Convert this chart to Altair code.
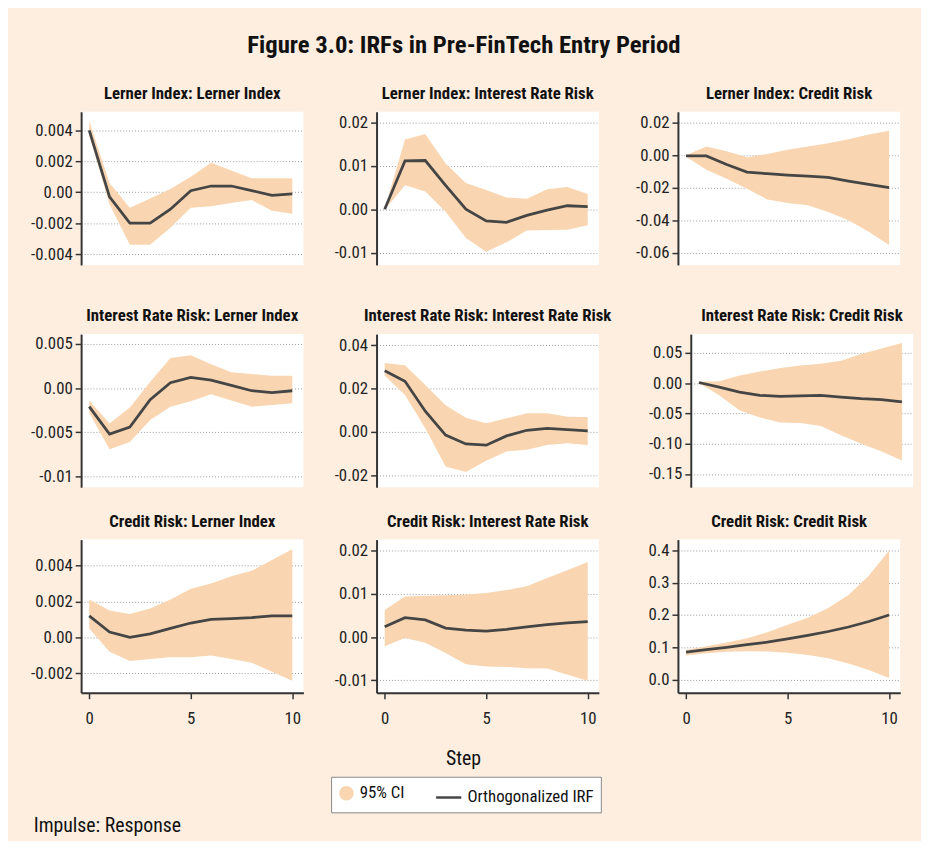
import altair as alt
import pandas as pd

FONT = "Liberation Sans Narrow, Roboto Condensed, DejaVu Sans Condensed, Liberation Sans, sans-serif"
BG = "#FDEEE0"
BAND = "#F9D6B1"
LINE = "#454545"
AXC = "#333333"

steps = list(range(11))

titles = [
    "Lerner Index: Lerner Index", "Lerner Index: Interest Rate Risk", "Lerner Index: Credit Risk",
    "Interest Rate Risk: Lerner Index", "Interest Rate Risk: Interest Rate Risk", "Interest Rate Risk: Credit Risk",
    "Credit Risk: Lerner Index", "Credit Risk: Interest Rate Risk", "Credit Risk: Credit Risk",
]

# Lerner Index -> Lerner Index
li_li_irf = [0.0040, -0.0003, -0.0020, -0.0020, -0.0011, 0.0001, 0.0004, 0.0004, 0.0001, -0.0002, -0.0001]
li_li_hi = [0.0046, 0.0006, -0.0010, -0.0004, 0.0002, 0.0010, 0.0019, 0.0014, 0.0009, 0.0009, 0.0009]
li_li_lo = [0.0037, -0.0008, -0.0034, -0.0034, -0.0023, -0.0010, -0.0009, -0.0007, -0.0005, -0.0012, -0.0014]
# Lerner Index -> Interest Rate Risk
li_ir_irf = [0.0, 0.0111, 0.0112, 0.0055, 0.0, -0.0027, -0.0030, -0.0014, -0.0002, 0.0008, 0.0006]
li_ir_hi = [0.0001, 0.0160, 0.0173, 0.0105, 0.0060, 0.0044, 0.0027, 0.0024, 0.0046, 0.0051, 0.0035]
li_ir_lo = [-0.0001, 0.0055, 0.0041, -0.0006, -0.0066, -0.0098, -0.0076, -0.0049, -0.0048, -0.0047, -0.0037]
# Lerner Index -> Credit Risk
li_cr_irf = [-0.0005, -0.0005, -0.0057, -0.0104, -0.0114, -0.0122, -0.0129, -0.0137, -0.0159, -0.0180, -0.0200]
li_cr_hi = [0.0000, 0.0053, 0.0024, -0.0012, 0.0008, 0.0033, 0.0053, 0.0073, 0.0098, 0.0127, 0.0151]
li_cr_lo = [-0.0010, -0.0090, -0.0145, -0.0206, -0.0273, -0.0294, -0.0308, -0.0349, -0.0400, -0.0471, -0.0553]
# Interest Rate Risk -> Lerner Index
ir_li_irf = [-0.0021, -0.0052, -0.0044, -0.0013, 0.0006, 0.0012, 0.0009, 0.0003, -0.0003, -0.0005, -0.0003]
ir_li_hi = [-0.0014, -0.0040, -0.0022, 0.0007, 0.0034, 0.0037, 0.0027, 0.0018, 0.0016, 0.0014, 0.0014]
ir_li_lo = [-0.0028, -0.0069, -0.0061, -0.0036, -0.0021, -0.0015, -0.0007, -0.0014, -0.0021, -0.0019, -0.0017]
# Interest Rate Risk -> Interest Rate Risk
ir_ir_irf = [0.0283, 0.0234, 0.0096, -0.0014, -0.0055, -0.0061, -0.0018, 0.0008, 0.0017, 0.0011, 0.0005]
ir_ir_hi = [0.0318, 0.0308, 0.0217, 0.0124, 0.0066, 0.0040, 0.0063, 0.0086, 0.0086, 0.0070, 0.0069]
ir_ir_lo = [0.0261, 0.0171, 0.0017, -0.0159, -0.0185, -0.0133, -0.0090, -0.0082, -0.0060, -0.0052, -0.0060]
# Interest Rate Risk -> Credit Risk
ir_cr_irf = [0.001, -0.0066, -0.0148, -0.0202, -0.0219, -0.0213, -0.0202, -0.0230, -0.0257, -0.0273, -0.0310]
ir_cr_hi = [0.002, 0.003, 0.0126, 0.019, 0.025, 0.029, 0.032, 0.037, 0.048, 0.057, 0.066]
ir_cr_lo = [0.0, -0.020, -0.045, -0.057, -0.065, -0.066, -0.071, -0.086, -0.100, -0.113, -0.128]
# Credit Risk -> Lerner Index
cr_li_irf = [0.0012, 0.0003, 0.0000, 0.0002, 0.0005, 0.0008, 0.0010, 0.00105, 0.0011, 0.0012, 0.0012]
cr_li_hi = [0.0021, 0.0015, 0.0013, 0.0016, 0.0021, 0.0027, 0.0030, 0.0034, 0.0037, 0.0043, 0.0049]
cr_li_lo = [0.0005, -0.0008, -0.0013, -0.0012, -0.0011, -0.0011, -0.0010, -0.0012, -0.0014, -0.0019, -0.0024]
# Credit Risk -> Interest Rate Risk
cr_ir_irf = [0.0024, 0.0045, 0.0040, 0.0021, 0.0016, 0.0014, 0.0018, 0.0024, 0.0029, 0.0033, 0.0036]
cr_ir_hi = [0.0063, 0.0094, 0.0096, 0.0097, 0.0099, 0.0102, 0.0109, 0.0118, 0.0137, 0.0155, 0.0174]
cr_ir_lo = [-0.0021, -0.0002, -0.0013, -0.0037, -0.0063, -0.0068, -0.0069, -0.0072, -0.0073, -0.0087, -0.0101]
# Credit Risk -> Credit Risk
cr_cr_irf = [0.085, 0.093, 0.100, 0.108, 0.116, 0.126, 0.137, 0.149, 0.163, 0.180, 0.200]
cr_cr_hi = [0.092, 0.103, 0.115, 0.128, 0.147, 0.170, 0.192, 0.222, 0.262, 0.322, 0.400]
cr_cr_lo = [0.075, 0.082, 0.086, 0.088, 0.087, 0.083, 0.076, 0.066, 0.050, 0.030, 0.005]

irfs = [li_li_irf, li_ir_irf, li_cr_irf, ir_li_irf, ir_ir_irf, ir_cr_irf, cr_li_irf, cr_ir_irf, cr_cr_irf]
his = [li_li_hi, li_ir_hi, li_cr_hi, ir_li_hi, ir_ir_hi, ir_cr_hi, cr_li_hi, cr_ir_hi, cr_cr_hi]
los = [li_li_lo, li_ir_lo, li_cr_lo, ir_li_lo, ir_ir_lo, ir_cr_lo, cr_li_lo, cr_ir_lo, cr_cr_lo]

ytick_vals = [
    [-0.004, -0.002, 0.0, 0.002, 0.004],
    [-0.01, 0.0, 0.01, 0.02],
    [-0.06, -0.04, -0.02, 0.0, 0.02],
    [-0.01, -0.005, 0.0, 0.005],
    [-0.02, 0.0, 0.02, 0.04],
    [-0.15, -0.10, -0.05, 0.0, 0.05],
    [-0.002, 0.0, 0.002, 0.004],
    [-0.01, 0.0, 0.01, 0.02],
    [0.0, 0.1, 0.2, 0.3, 0.4],
]
ytick_labels = [
    ["-0.004", "-0.002", "0.00", "0.002", "0.004"],
    ["-0.01", "0.00", "0.01", "0.02"],
    ["-0.06", "-0.04", "-0.02", "0.00", "0.02"],
    ["-0.01", "-0.005", "0.00", "0.005"],
    ["-0.02", "0.00", "0.02", "0.04"],
    ["-0.15", "-0.10", "-0.05", "0.00", "0.05"],
    ["-0.002", "0.00", "0.002", "0.004"],
    ["-0.01", "0.00", "0.01", "0.02"],
    ["0.0", "0.1", "0.2", "0.3", "0.4"],
]
y_domains = [
    [-0.0047, 0.0052], [-0.0128, 0.0224], [-0.0675, 0.0267],
    [-0.0112, 0.0061], [-0.0255, 0.0452], [-0.172, 0.0809],
    [-0.00307, 0.00543], [-0.0129, 0.0226], [-0.0408, 0.4337],
]
x_ticks = [0, 5, 10]
x_domain = [-0.4, 10.55]

legend_series = ["95% CI", "Orthogonalized IRF"]
note_text = ["Impulse: Response"]

PW, PH = 225, 155
EXT = [50, 50, 56]


def label_expr(vals, labs):
    expr = "''"
    for v, l in reversed(list(zip(vals, labs))):
        expr = f"abs(datum.value - ({v})) < 1e-7 ? '{l}' : ({expr})"
    return expr


def panel(i):
    df = pd.DataFrame({"step": steps, "irf": irfs[i], "lo": los[i], "hi": his[i]})
    bottom_row = i >= 6
    if bottom_row:
        xaxis = alt.Axis(values=x_ticks, format="d", title=None, grid=False,
                         labelFontSize=17, labelFont=FONT, labelColor="#222",
                         domainColor=AXC, domainWidth=2, tickColor=AXC, tickSize=6,
                         tickWidth=1.5, labelPadding=12)
    else:
        xaxis = None
    yaxis = alt.Axis(values=ytick_vals[i], labelExpr=label_expr(ytick_vals[i], ytick_labels[i]),
                     title=None, grid=True, gridDash=[1, 2], gridColor="#9a9a9a", gridWidth=1,
                     domainColor=AXC, domainWidth=2, tickColor=AXC, tickSize=6, tickWidth=1.5,
                     labelFontSize=17, labelFont=FONT, labelColor="#222", labelPadding=3,
                     minExtent=EXT[i % 3], maxExtent=EXT[i % 3])
    xs = alt.Scale(domain=x_domain, nice=False, zero=False)
    ys = alt.Scale(domain=y_domains[i], nice=False, zero=False)
    base = alt.Chart(df)
    band = base.mark_area(color=BAND, opacity=1).encode(
        x=alt.X("step:Q", scale=xs, axis=xaxis),
        y=alt.Y("lo:Q", scale=ys, axis=yaxis),
        y2="hi:Q",
    )
    line = base.mark_line(color=LINE, strokeWidth=2.8).encode(
        x=alt.X("step:Q", scale=xs, axis=xaxis),
        y=alt.Y("irf:Q", scale=ys, axis=yaxis),
    )
    return alt.layer(band, line).properties(
        width=PW, height=PH,
        view=alt.ViewBackground(fill="white", strokeWidth=0),
        title=alt.TitleParams(titles[i], fontSize=17, font=FONT, fontWeight="bold",
                              color="#111", anchor="middle", offset=9),
    )


rows = [alt.hconcat(*[panel(r * 3 + c) for c in range(3)], spacing=24) for r in range(3)]
grid = alt.vconcat(rows[0], alt.vconcat(rows[1], rows[2], spacing=26), spacing=43)

leg = alt.Legend(title=None, orient="none", legendX=253, legendY=2, direction="horizontal",
                 fillColor="white", strokeColor="#888", padding=7, labelFontSize=17,
                 labelFont=FONT, labelColor="#111", symbolOpacity=1, symbolStrokeWidth=2.5,
                 columnPadding=26, labelOffset=5)
ldf = pd.DataFrame({"series": legend_series})
leg_points = alt.Chart(ldf).mark_point(filled=True, opacity=0).encode(
    fill=alt.Fill("series:N", scale=alt.Scale(domain=legend_series, range=[BAND, LINE]), legend=leg),
    stroke=alt.Stroke("series:N", scale=alt.Scale(domain=legend_series, range=[BAND, LINE]), legend=leg),
    shape=alt.Shape("series:N", scale=alt.Scale(domain=legend_series, range=["circle", "stroke"]), legend=leg),
    size=alt.Size("series:O", scale=alt.Scale(domain=legend_series, range=[150, 650]), legend=leg),
)
note = alt.Chart(pd.DataFrame({"label": note_text})).mark_text(
    align="left", baseline="middle", fontSize=20, font=FONT, color="#111"
).encode(text="label:N", x=alt.value(-48), y=alt.value(52))

bottom = alt.layer(leg_points, note).properties(
    width=774, height=58,
    title=alt.TitleParams("Step", fontSize=20, font=FONT, fontWeight="normal", color="#111",
                          anchor="middle", offset=6),
)

chart = alt.vconcat(grid, bottom, spacing=23).properties(
    title=alt.TitleParams("Figure 3.0: IRFs in Pre-FinTech Entry Period", fontSize=25, font=FONT,
                          fontWeight="bold", color="#111", anchor="middle", offset=27, dx=-8),
    padding={"left": 22, "top": 21, "right": 8, "bottom": 0},
).resolve_scale(
    fill="independent", stroke="independent", shape="independent", size="independent"
).configure(background=BG).configure_view(strokeWidth=0)

chart.save("out.html", embed_options={"renderer": "svg", "actions": False})
